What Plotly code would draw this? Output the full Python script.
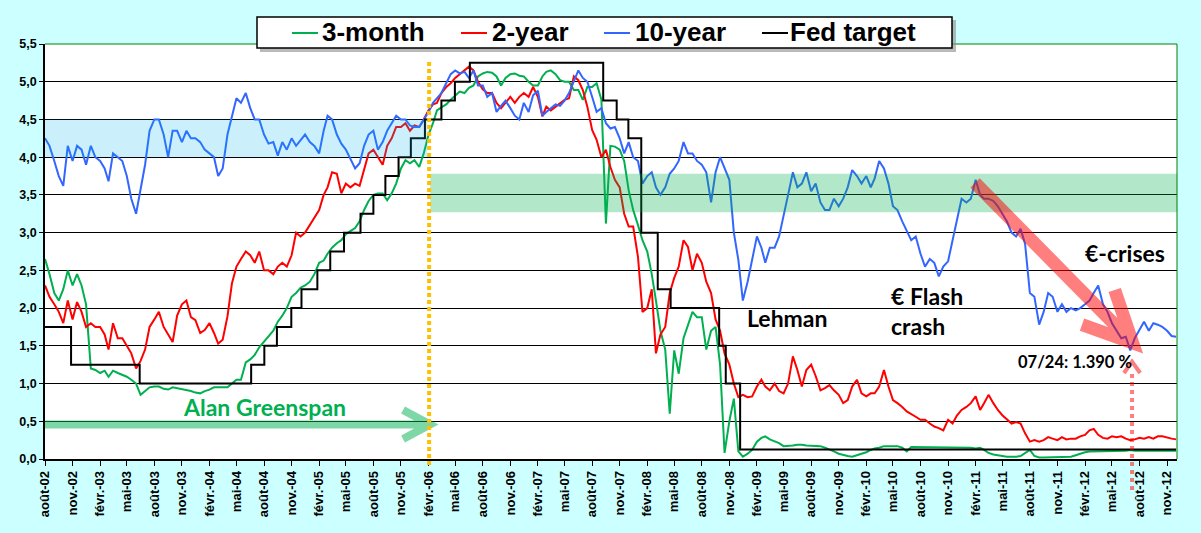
import pandas as pd
import plotly.graph_objects as go

# readings on the 1st and 16th of each month, Aug 2002 .. 1 Dec 2012
month_starts = pd.date_range("2002-08-01", "2012-12-01", freq="MS")
dates = sorted(list(month_starts) + list(month_starts[:-1] + pd.Timedelta(days=15)))

three_month = [
    # 2002
    2.65, 2.45, 2.2, 2.1, 2.25, 2.5, 2.3, 2.45, 2.3, 2.05,
    # 2003
    1.2, 1.18, 1.14, 1.17, 1.09, 1.17, 1.14, 1.12, 1.09, 1.05, 1.0, 0.85,
    0.9, 0.95, 0.96, 0.96, 0.93, 0.92, 0.95, 0.94, 0.92, 0.91, 0.9, 0.88,
    # 2004
    0.87, 0.9, 0.92, 0.95, 0.95, 0.95, 0.95, 1.0, 1.05, 1.05, 1.28, 1.32,
    1.38, 1.48, 1.55, 1.63, 1.7, 1.82, 1.9, 2.0, 2.15, 2.2, 2.27, 2.3,
    # 2005
    2.35, 2.45, 2.6, 2.63, 2.72, 2.8, 2.86, 2.9, 2.98, 3.02, 3.06, 3.15,
    3.3, 3.42, 3.5, 3.52, 3.52, 3.43, 3.52, 3.65, 3.85, 3.96, 3.92, 3.96,
    # 2006
    3.87, 4.05, 4.3, 4.45, 4.62, 4.66, 4.7, 4.76, 4.82, 4.87, 4.85, 4.92,
    4.95, 5.07, 5.11, 5.13, 5.12, 5.07, 4.95, 5.05, 5.1, 5.11, 5.08, 5.07,
    # 2007
    5.0, 4.95, 4.95, 5.07, 5.13, 5.15, 5.1, 5.02, 5.0, 5.0, 4.89, 4.89,
    4.76, 4.93, 4.93, 4.98, 4.76, 3.12, 4.15, 4.14, 4.1, 3.95, 3.56, 3.3,
    # 2008
    3.1, 2.9, 2.75, 2.45, 2.1, 1.7, 1.45, 0.6, 1.44, 1.13, 1.6, 1.78,
    1.95, 1.88, 1.88, 1.45, 1.7, 1.75, 1.25, 0.08, 0.5, 0.8, 0.1, 0.03,
    # 2009
    0.07, 0.12, 0.23, 0.28, 0.3, 0.26, 0.23, 0.21, 0.17, 0.17, 0.18, 0.19,
    0.19, 0.18, 0.18, 0.18, 0.17, 0.15, 0.12, 0.1, 0.07, 0.05, 0.04, 0.03,
    # 2010
    0.05, 0.07, 0.09, 0.12, 0.14, 0.15, 0.17, 0.17, 0.17, 0.17, 0.15, 0.1,
    0.16, 0.16, 0.16, 0.16, 0.15, 0.15, 0.15, 0.16, 0.16, 0.16, 0.16, 0.16,
    # 2011
    0.15, 0.15, 0.14, 0.15, 0.12, 0.08, 0.06, 0.05, 0.04, 0.03, 0.03, 0.03,
    0.04, 0.08, 0.12, 0.04, 0.02, 0.02, 0.02, 0.02, 0.02, 0.02, 0.02, 0.03,
    # 2012
    0.05, 0.07, 0.09, 0.1, 0.1, 0.1, 0.11, 0.11, 0.11, 0.11, 0.11, 0.11,
    0.12, 0.11, 0.11, 0.11, 0.11, 0.11, 0.11, 0.11, 0.11, 0.11, 0.11,
]

two_year = [
    # 2002
    2.3, 2.15, 2.05, 1.95, 1.8, 2.1, 1.85, 2.08, 1.95, 1.75,
    # 2003
    1.8, 1.75, 1.75, 1.65, 1.45, 1.8, 1.6, 1.6, 1.5, 1.4, 1.2, 1.3,
    1.45, 1.75, 1.85, 1.95, 1.75, 1.65, 1.55, 1.9, 2.05, 2.1, 1.88, 1.84,
    # 2004
    1.67, 1.71, 1.8, 1.67, 1.53, 1.58, 1.89, 2.33, 2.55, 2.65, 2.75, 2.7,
    2.6, 2.75, 2.5, 2.5, 2.45, 2.55, 2.6, 2.55, 2.7, 3.0, 2.95, 3.0,
    # 2005
    3.1, 3.2, 3.3, 3.5, 3.6, 3.8, 3.78, 3.52, 3.65, 3.6, 3.65, 3.62,
    3.85, 4.05, 4.1, 4.0, 3.9, 4.15, 4.25, 4.4, 4.4, 4.45, 4.35, 4.42,
    # 2006
    4.4, 4.5, 4.62, 4.7, 4.72, 4.85, 4.93, 4.98, 5.05, 5.1, 5.15, 5.2,
    5.15, 5.0, 4.9, 4.85, 4.85, 4.72, 4.65, 4.72, 4.8, 4.72, 4.8, 4.85,
    # 2007
    4.8, 4.93, 4.8, 4.54, 4.67, 4.62, 4.67, 4.71, 4.76, 4.78, 5.07, 5.02,
    4.89, 4.67, 4.36, 4.23, 4.0, 4.1, 3.87, 3.7, 3.6, 3.25, 3.08, 3.08,
    # 2008
    2.68, 1.95, 2.0, 2.25, 1.4, 1.65, 1.75, 2.2, 2.4, 2.55, 2.9, 2.81,
    2.5, 2.72, 2.6, 2.35, 2.2, 1.85, 1.7, 1.4, 1.25, 1.0, 0.82, 0.85,
    # 2009
    0.82, 0.83, 0.96, 1.05, 0.96, 0.91, 1.0, 0.9, 0.87, 1.0, 1.36, 1.18,
    0.96, 1.18, 1.25, 1.1, 0.91, 0.94, 0.98, 0.91, 0.85, 0.74, 0.78, 0.96,
    # 2010
    1.05, 0.87, 0.83, 0.87, 0.87, 0.96, 1.18, 0.96, 0.78, 0.74, 0.69, 0.63,
    0.6, 0.56, 0.52, 0.52, 0.47, 0.43, 0.41, 0.38, 0.52, 0.47, 0.58, 0.65,
    # 2011
    0.69, 0.74, 0.83, 0.65, 0.74, 0.85, 0.74, 0.65, 0.58, 0.52, 0.47, 0.49,
    0.47, 0.34, 0.23, 0.25, 0.23, 0.25, 0.29, 0.27, 0.25, 0.29, 0.26, 0.27,
    # 2012
    0.27, 0.3, 0.32, 0.38, 0.4, 0.32, 0.28, 0.27, 0.3, 0.29, 0.3, 0.27,
    0.25, 0.26, 0.28, 0.27, 0.29, 0.27, 0.3, 0.3, 0.28, 0.27, 0.26,
]

ten_year = [
    # 2002
    4.25, 4.15, 3.95, 3.75, 3.62, 4.15, 3.95, 4.15, 4.1, 3.9,
    # 2003
    4.15, 4.0, 3.95, 3.85, 3.68, 4.05, 4.0, 3.95, 3.75, 3.45, 3.25, 3.6,
    3.9, 4.35, 4.5, 4.5, 4.3, 4.0, 4.35, 4.35, 4.2, 4.35, 4.25, 4.25,
    # 2004
    4.2, 4.1, 4.05, 4.0, 3.75, 3.85, 4.3, 4.55, 4.78, 4.72, 4.85, 4.65,
    4.5, 4.5, 4.3, 4.18, 4.2, 4.02, 4.2, 4.1, 4.25, 4.15, 4.22, 4.3,
    # 2005
    4.2, 4.15, 4.05, 4.35, 4.55, 4.5, 4.3, 4.18, 4.1, 3.97, 3.85, 3.92,
    4.15, 4.3, 4.35, 4.1, 4.2, 4.35, 4.45, 4.55, 4.5, 4.5, 4.42, 4.4,
    # 2006
    4.4, 4.5, 4.6, 4.72, 4.78, 4.85, 4.98, 5.1, 5.15, 5.11, 5.13, 5.05,
    5.15, 4.95, 4.95, 4.8, 4.85, 4.6, 4.68, 4.75, 4.65, 4.55, 4.5, 4.72,
    # 2007
    4.6, 4.82, 4.88, 4.55, 4.6, 4.65, 4.7, 4.68, 4.75, 4.85, 5.0, 5.15,
    5.05, 5.0, 4.8, 4.6, 4.65, 4.45, 4.38, 4.4, 4.25, 4.05, 4.2, 4.0,
    # 2008
    3.95, 3.65, 3.75, 3.8, 3.6, 3.5, 3.6, 3.78, 3.85, 3.95, 4.2, 4.05,
    4.05, 3.95, 3.9, 3.8, 3.4, 3.8, 4.0, 3.85, 3.7, 3.0, 2.64, 2.1,
    # 2009
    2.35, 2.64, 2.95, 2.8, 2.6, 2.8, 2.8, 2.95, 3.25, 3.5, 3.8, 3.6,
    3.65, 3.8, 3.55, 3.65, 3.4, 3.3, 3.3, 3.45, 3.35, 3.45, 3.6, 3.83,
    # 2010
    3.75, 3.65, 3.75, 3.6, 3.72, 3.95, 3.85, 3.65, 3.35, 3.3, 3.15, 3.03,
    2.9, 2.95, 2.72, 2.55, 2.65, 2.6, 2.42, 2.55, 2.62, 2.9, 3.2, 3.45,
    # 2011
    3.4, 3.45, 3.7, 3.5, 3.45, 3.45, 3.42, 3.35, 3.25, 3.15, 3.0, 2.95,
    3.05, 2.85, 2.2, 2.15, 1.78, 1.95, 2.2, 2.15, 1.95, 2.05, 1.95, 2.0,
    # 2012
    1.97, 2.0, 2.05, 2.1, 2.2, 2.3, 2.05, 1.95, 1.8, 1.71, 1.6, 1.62,
    1.44, 1.6, 1.72, 1.82, 1.7, 1.8, 1.78, 1.75, 1.7, 1.63, 1.62,
]

fed_dates = ["2002-08-01", "2002-10-27", "2003-06-13", "2004-06-19", "2004-08-02",
             "2004-09-13", "2004-10-31", "2004-12-04", "2005-01-26", "2005-03-10",
             "2005-04-25", "2005-06-19", "2005-08-01", "2005-09-10", "2005-10-24",
             "2005-12-04", "2006-01-20", "2006-03-16", "2006-04-30", "2006-06-19",
             "2007-09-07", "2007-10-22", "2007-11-30", "2008-01-12", "2008-03-07",
             "2008-04-19", "2008-09-28", "2008-10-20", "2008-12-07", "2012-12-01"]
fed_target = [1.75, 1.25, 1.0, 1.25, 1.5, 1.75, 2.0, 2.25, 2.5, 2.75,
              3.0, 3.25, 3.5, 3.75, 4.0, 4.25, 4.5, 4.75, 5.0, 5.25,
              4.75, 4.5, 4.25, 3.0, 2.25, 2.0, 1.5, 1.0, 0.125, 0.125]

# x ticks every 3 months, french month labels
tick_dates = pd.date_range("2002-08-01", "2012-11-01", freq="3MS")
fr_month = {2: "févr.", 5: "mai", 8: "août", 11: "nov."}
tick_text = [f"{fr_month[d.month]}-{d:%y}" for d in tick_dates]

GREEN = "#00B050"
RED = "#FF0000"
BLUE = "#3366FF"
ARIAL = "Liberation Sans, Arial, sans-serif"
CALIBRI = "Lato, Carlito, Calibri, sans-serif"

fig = go.Figure()
fig.add_trace(go.Scatter(x=dates, y=three_month, name="3-month", mode="lines",
                         line=dict(color=GREEN, width=2)))
fig.add_trace(go.Scatter(x=dates, y=two_year, name="2-year", mode="lines",
                         line=dict(color=RED, width=2)))
fig.add_trace(go.Scatter(x=dates, y=ten_year, name="10-year", mode="lines",
                         line=dict(color=BLUE, width=2)))
fig.add_trace(go.Scatter(x=fed_dates, y=fed_target, name="Fed target", mode="lines",
                         line=dict(color="black", width=2, shape="hv")))


def pp(x, y):
    # page pixel -> paper coordinates (plot area 45..1177 x 44..459)
    return (x - 45) / 1132, (459 - y) / 415


shapes = []
# shaded ranges (drawn over the lines, semi transparent)
shapes.append(dict(type="rect", xref="x", yref="y", x0="2002-08-01", x1="2006-01-28",
                   y0=4.0, y1=4.5, fillcolor="#00B0F0", opacity=0.2, line_width=0, layer="above"))
shapes.append(dict(type="rect", xref="x", yref="y", x0="2006-02-07", x1="2012-12-04",
                   y0=3.27, y1=3.78, fillcolor=GREEN, opacity=0.3, line_width=0, layer="above"))
# Greenspan arrow
shapes.append(dict(type="path", xref="x", yref="y",
                   path="M2002-08-01,0.457 L2006-02-06,0.457 M2005-11-08,0.65 L2006-02-06,0.457 L2005-11-08,0.265",
                   line=dict(color=GREEN, width=8), opacity=0.5, layer="above"))
# end of Greenspan era
_, y0 = pp(0, 62)
_, y1 = pp(0, 466)
shapes.append(dict(type="line", xref="x", yref="paper", x0="2006-02-03", x1="2006-02-03",
                   y0=y0, y1=y1, line=dict(color="#FFC000", width=4, dash="4px,3px"), layer="above"))
# euro crisis arrow
shapes.append(dict(type="path", xref="x", yref="y",
                   path="M2011-01-30,3.66 L2012-07-09,1.54 M2012-05-10,2.24 L2012-07-09,1.54 L2012-01-22,1.78",
                   line=dict(color=RED, width=13), opacity=0.5, layer="above"))
# pointer to the 07/24 low
_, ya = pp(0, 490)
_, yb = pp(0, 372)
shapes.append(dict(type="line", xref="x", yref="paper", x0="2012-07-07", x1="2012-07-07",
                   y0=ya, y1=yb, line=dict(color=RED, width=4, dash="4px,4px"), opacity=0.5, layer="above"))
shapes.append(dict(type="path", xref="x", yref="y",
                   path="M2012-06-10,1.14 L2012-07-07,1.29 L2012-08-03,1.14",
                   line=dict(color=RED, width=4), opacity=0.5, layer="above"))
# plot frame top/right in green
shapes.append(dict(type="line", xref="paper", yref="paper", x0=0, x1=1, y0=1, y1=1,
                   line=dict(color="#008000", width=1), layer="above"))
shapes.append(dict(type="line", xref="paper", yref="paper", x0=1, x1=1, y0=0, y1=1,
                   line=dict(color="#008000", width=1), layer="above"))

# legend box
sx0, sy0 = pp(260, 52)
sx1, sy1 = pp(956, 20)
shapes.append(dict(type="rect", xref="paper", yref="paper", x0=sx0, x1=sx1, y0=sy0, y1=sy1,
                   fillcolor="#8c8c8c", opacity=0.6, line_width=0, layer="above"))
bx0, by0 = pp(257, 48)
bx1, by1 = pp(952, 17)
shapes.append(dict(type="rect", xref="paper", yref="paper", x0=bx0, x1=bx1, y0=by0, y1=by1,
                   fillcolor="white", line=dict(color="black", width=1.5), layer="above"))

legend_items = [("3-month", GREEN, 292, 320), ("2-year", RED, 461, 490),
                ("10-year", BLUE, 604, 633), ("Fed target", "black", 762, 788)]
annotations = []
for label, color, sym_x, text_x in legend_items:
    lx0, ly = pp(sym_x, 33)
    lx1, _ = pp(sym_x + 26, 33)
    shapes.append(dict(type="line", xref="paper", yref="paper", x0=lx0, x1=lx1, y0=ly, y1=ly,
                       line=dict(color=color, width=2), layer="above"))
    tx, ty = pp(text_x, 32)
    annotations.append(dict(xref="paper", yref="paper", x=tx, y=ty, text=label, showarrow=False,
                            xanchor="left", yanchor="middle",
                            font=dict(family=ARIAL, size=26, color="black", weight="bold")))

annotations += [
    dict(x="2004-08-04", y=0.69, text="Alan Greenspan", showarrow=False,
         font=dict(family=CALIBRI, size=23, color=GREEN, weight="bold")),
    dict(x="2009-05-15", y=1.87, text="Lehman", showarrow=False,
         font=dict(family=CALIBRI, size=23, color="black", weight="bold")),
    dict(x="2010-04-17", y=1.96, text="€ Flash<br>crash", showarrow=False, xanchor="left", align="left",
         font=dict(family=CALIBRI, size=23, color="black", weight="bold")),
    dict(x="2012-06-13", y=2.73, text="€-crises", showarrow=False,
         font=dict(family=CALIBRI, size=23, color="black", weight="bold")),
    dict(x="2011-12-28", y=1.29, text="07/24: 1.390 %", showarrow=False,
         font=dict(family=CALIBRI, size=16.5, color="black", weight="bold")),
]

tick_font = dict(family=ARIAL, size=12.5, color="black", weight="bold")
fig.update_layout(
    width=1201, height=533,
    margin=dict(l=45, r=24, t=44, b=74),
    paper_bgcolor="#CCFFFF",
    plot_bgcolor="white",
    separators=", ",
    showlegend=False,
    shapes=shapes,
    annotations=annotations,
    xaxis=dict(type="date", range=["2002-08-01", "2012-12-04"],
               tickvals=list(tick_dates), ticktext=tick_text, tickangle=-90,
               ticks="outside", ticklen=5, tickcolor="black",
               showline=True, linecolor="black", linewidth=1.5,
               showgrid=False, zeroline=False, tickfont=dict(tick_font, size=13)),
    yaxis=dict(range=[0, 5.5], tick0=0, dtick=0.5, tickformat=".1f",
               showgrid=True, gridcolor="black", gridwidth=1,
               ticks="outside", ticklen=4, tickcolor="black",
               showline=True, linecolor="black", linewidth=1.5,
               zeroline=False, tickfont=tick_font),
)

fig.write_html("out.html", config={"displayModeBar": False},
               post_script="document.body.style.margin = '0';")
